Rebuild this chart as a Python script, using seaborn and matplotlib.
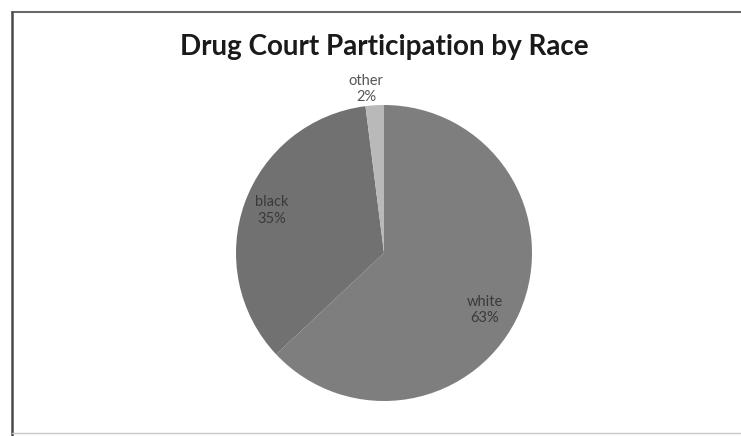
import numpy as np
import matplotlib
matplotlib.use('Agg')
import matplotlib.pyplot as plt
from matplotlib.lines import Line2D
import seaborn as sns

# data (Excel order: clockwise from 12 o'clock)
races = ['white', 'black', 'other']
shares = [63, 35, 2]
slice_colors = ['#7e7e7e', '#717171', '#b9b9b9']

# label placement: fraction of radius and a small turn (deg) off the mid-angle
label_dist = [0.78, 0.81, 1.115]
label_turn = [-6.0, -1.0, 2.6]
label_colors = ['#3a3a3a', '#3a3a3a', '#555555']

sns.set_theme(style='white')
plt.rcParams['font.family'] = ['Lato', 'DejaVu Sans']

W, H = 741, 436
fig = plt.figure(figsize=(W / 100, H / 100), dpi=100)
fig.patch.set_facecolor('white')

# chart frame like the scanned Excel border (top/left dark, bottom faint)
def px_line(xs, ys, color, lw):
    fig.lines.append(Line2D([x / W for x in xs], [1 - y / H for y in ys],
                            transform=fig.transFigure, color=color, linewidth=lw))

px_line([12, W], [12, 12], '#6a6a6a', 1.5)
px_line([12, 12], [12, H], '#4a4a4a', 1.8)
px_line([12, W], [433, 433], '#c8c8c8', 1.0)

# pie axes, centred where the scanned pie sits
cx, cy, r = 384, 253, 148
ax = fig.add_axes([(cx - r) / W, (H - cy - r) / H, 2 * r / W, 2 * r / H])
wedges, _ = ax.pie(shares, colors=slice_colors, startangle=90, counterclock=False,
                   wedgeprops=dict(linewidth=0))
ax.set_xlim(-1, 1)
ax.set_ylim(-1, 1)
ax.set_aspect('equal')
ax.axis('off')

for w, name, val, d, t, c in zip(wedges, races, shares, label_dist, label_turn, label_colors):
    ang = np.deg2rad((w.theta1 + w.theta2) / 2 + t)
    ax.text(d * np.cos(ang), d * np.sin(ang), f'{name}\n{val}%',
            ha='center', va='center', fontsize=10.5, color=c,
            linespacing=1.2, clip_on=False)

fig.text(cx / W, 1 - 47 / H, 'Drug Court Participation by Race',
         ha='center', va='center', fontsize=20, fontweight='bold', color='#1a1a1a')

fig.savefig('out.png', dpi=100)
